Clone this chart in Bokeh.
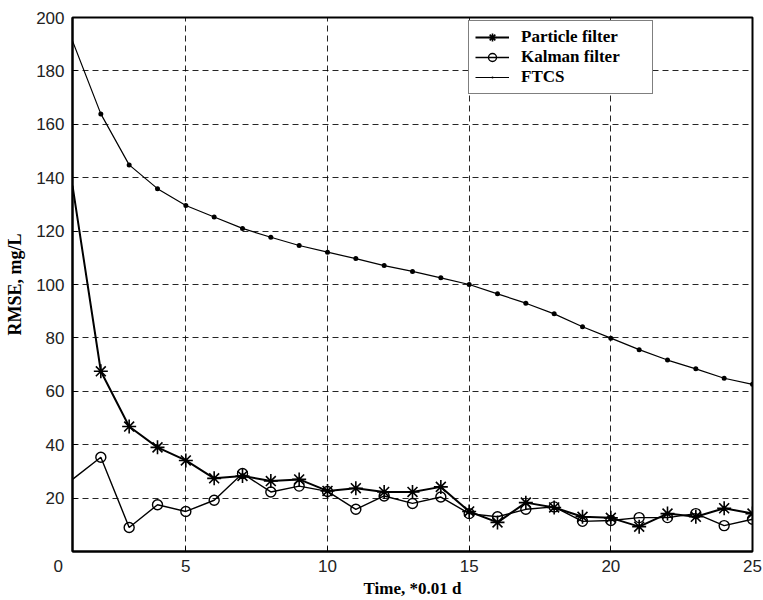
from bokeh.plotting import figure
from bokeh.models import FixedTicker, Legend, LegendItem
from bokeh.embed import file_html
from bokeh.resources import INLINE

# Time steps (*0.01 d)
time = list(range(1, 26))

# RMSE, mg/L
particle_filter = [137.0, 67.5, 46.8, 39.0, 34.1, 27.4, 28.3, 26.4, 27.0, 22.7,
                   23.7, 22.3, 22.3, 24.2, 15.0, 10.9, 18.3, 16.5, 13.0, 12.6,
                   9.3, 14.2, 13.0, 16.2, 14.2]
kalman_filter = [27.0, 35.3, 9.0, 17.5, 15.0, 19.2, 29.2, 22.3, 24.5, 22.5,
                 15.8, 20.8, 18.0, 20.4, 14.2, 13.0, 15.8, 16.7, 11.3, 11.6,
                 12.7, 12.7, 14.2, 9.7, 12.1]
ftcs = [191.2, 163.9, 144.8, 135.9, 129.6, 125.3, 121.0, 117.7, 114.6, 112.1,
        109.7, 107.1, 104.9, 102.5, 100.0, 96.5, 93.0, 89.0, 84.2, 79.9,
        75.6, 71.7, 68.4, 64.9, 62.6]

x_ticks = [5, 10, 15, 20, 25]
y_ticks = [20, 40, 60, 80, 100, 120, 140, 160, 180, 200]

TICK_FONT = "Liberation Sans"
LABEL_FONT = "Liberation Serif"

p = figure(width=763, height=600, x_range=(1, 25), y_range=(0, 200),
           output_backend="svg", toolbar_location=None,
           min_border_left=72, min_border_right=11, min_border_top=17,
           min_border_bottom=46)
p.background_fill_color = "white"
p.border_fill_color = "white"
p.outline_line_color = "black"
p.outline_line_width = 2

# axes
for ax in (p.xaxis[0], p.yaxis[0]):
    ax.axis_line_width = 2
    ax.axis_line_color = "black"
    ax.major_tick_in = 5
    ax.major_tick_out = 0
    ax.minor_tick_line_color = None
    ax.major_tick_line_color = "black"
    ax.major_label_text_font = TICK_FONT
    ax.major_label_text_font_size = "17px"
    ax.major_label_text_color = "#222222"
    ax.axis_label_text_font = LABEL_FONT
    ax.axis_label_text_font_style = "bold"
    ax.axis_label_text_font_size = "18px"
    ax.axis_label_text_color = "black"

# the first step is labelled "0", set a little left of the frame corner
p.xaxis.ticker = FixedTicker(ticks=[time[0]] + x_ticks)
p.xaxis.major_label_overrides = {time[0]: "0" + "\u00a0" * 6}
p.yaxis.ticker = FixedTicker(ticks=y_ticks)
p.xaxis.axis_label = "Time, *0.01 d"
p.yaxis.axis_label = "RMSE, mg/L"
p.xaxis.major_label_standoff = 5
p.yaxis.major_label_standoff = 8
p.xaxis.axis_label_standoff = 0
p.yaxis.axis_label_standoff = 8
p.xaxis.axis_label_text_font_size = "17px"

# dashed grid
p.xgrid.ticker = FixedTicker(ticks=x_ticks)
p.ygrid.ticker = FixedTicker(ticks=y_ticks)
for g in (p.xgrid[0], p.ygrid[0]):
    g.grid_line_color = "black"
    g.grid_line_dash = "6 4"
    g.grid_line_width = 1
    g.grid_line_alpha = 0.85

# series: lines run from the first step, markers from the second one
pl = p.line(time, particle_filter, line_color="black", line_width=2)
ps = p.scatter(time[1:], particle_filter[1:], marker="asterisk", size=14,
               line_color="black", line_width=1.6)
kl = p.line(time, kalman_filter, line_color="black", line_width=1.4)
ks = p.scatter(time[1:], kalman_filter[1:], marker="circle", size=10,
               line_color="black", fill_color=None, line_width=1.4)
fl = p.line(time, ftcs, line_color="black", line_width=1.2)
fs = p.scatter(time[1:], ftcs[1:], marker="dot", size=20,
               line_color="black", fill_color="black", line_width=1)

legend = Legend(items=[
    LegendItem(label="Particle filter", renderers=[pl, ps]),
    LegendItem(label="Kalman filter", renderers=[kl, ks]),
    LegendItem(label="FTCS", renderers=[fl, fs]),
], location=(396, 457))
legend.label_text_font = LABEL_FONT
legend.label_text_font_style = "bold"
legend.label_text_font_size = "17px"
legend.label_text_color = "black"
legend.border_line_color = "black"
legend.border_line_width = 1.5
legend.background_fill_alpha = 1
legend.spacing = 0
legend.label_height = 20
legend.glyph_height = 20
legend.glyph_width = 34
legend.label_width = 125
legend.padding = 6
legend.margin = 0
legend.label_standoff = 12
p.add_layout(legend)

open("out.html", "w").write(file_html(p, INLINE))
